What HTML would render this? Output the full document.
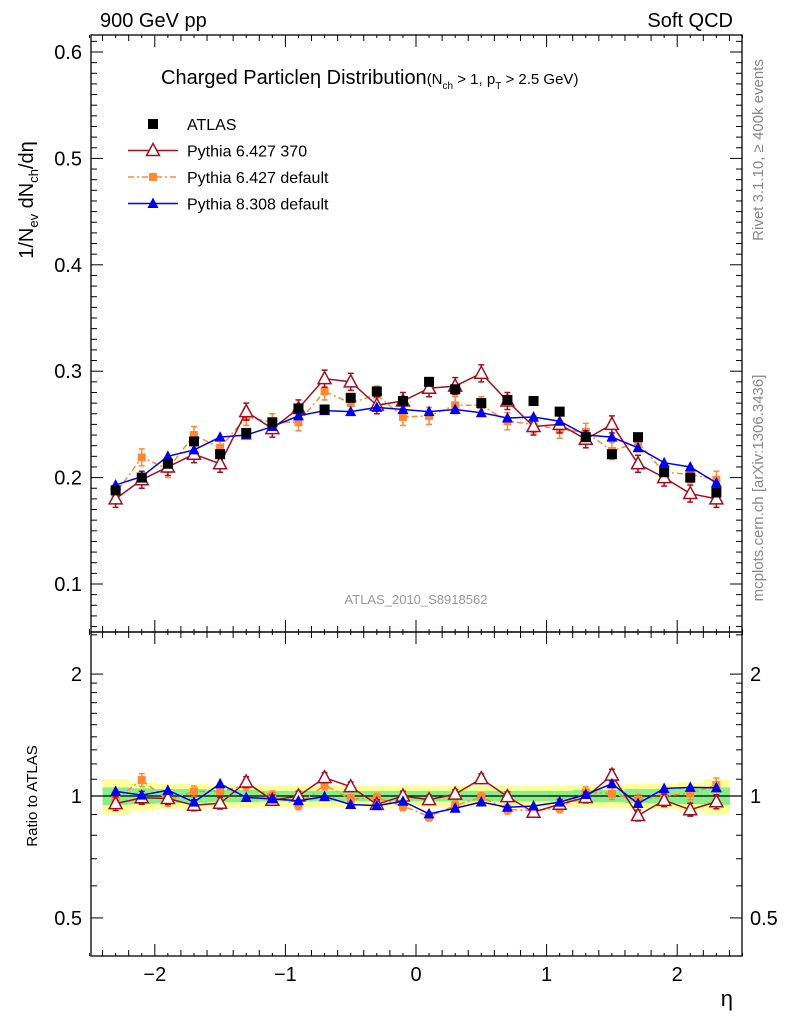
<!DOCTYPE html>
<html><head><meta charset="utf-8"><style>
body{margin:0;background:#fff;}
svg{display:block;font-family:"Liberation Sans",sans-serif;}
</style></head><body>
<svg id="c" width="786" height="1024" viewBox="0 0 786 1024"></svg>
<script>
const etas=[-2.3,-2.1,-1.9,-1.7,-1.5,-1.3,-1.1,-0.9,-0.7,-0.5,-0.3,-0.1,0.1,0.3,0.5,0.7,0.9,1.1,1.3,1.5,1.7,1.9,2.1,2.3];
const atlas=[0.188,0.200,0.213,0.234,0.222,0.242,0.252,0.265,0.264,0.275,0.281,0.272,0.290,0.283,0.270,0.273,0.272,0.262,0.238,0.222,0.238,0.205,0.200,0.186];
const py370=[0.180,0.198,0.210,0.222,0.213,0.262,0.246,0.265,0.293,0.290,0.268,0.272,0.284,0.286,0.298,0.272,0.248,0.250,0.236,0.250,0.213,0.200,0.185,0.180];
const pydef=[0.185,0.219,0.208,0.240,0.228,0.257,0.252,0.252,0.281,0.270,0.278,0.257,0.258,0.268,0.268,0.253,0.250,0.245,0.243,0.225,0.233,0.205,0.203,0.198];
const py8=[0.193,0.201,0.220,0.226,0.238,0.240,0.248,0.258,0.263,0.262,0.266,0.264,0.262,0.264,0.261,0.256,0.257,0.253,0.240,0.238,0.228,0.214,0.210,0.195];
const bandTot=[0.10,0.08,0.07,0.07,0.065,0.065,0.06,0.06,0.06,0.06,0.06,0.06,0.06,0.06,0.06,0.06,0.06,0.06,0.065,0.065,0.07,0.07,0.08,0.10];
const bandStat=[0.05,0.045,0.04,0.04,0.035,0.035,0.03,0.03,0.03,0.03,0.03,0.03,0.03,0.03,0.03,0.03,0.03,0.03,0.035,0.035,0.04,0.04,0.045,0.05];
const xTicks=[-2,-1,0,1,2];
const yTicks=[0.1,0.2,0.3,0.4,0.5,0.6];
const rTicks=[0.5,1,2];

const NS="http://www.w3.org/2000/svg";
const svg=document.getElementById('c');
function el(t,a,p){const e=document.createElementNS(NS,t);for(const k in a)e.setAttribute(k,a[k]);(p||svg).appendChild(e);return e;}
const L=91,R=742,T=35,M=632,B=956;
const X=v=>416+v*130.6;
const Y=v=>52+(0.6-v)*1064;
const RY=v=>796-Math.log10(v)*405;

const gB=el('g',{});


etas.forEach((e,i)=>{
  const x0=X(e-0.1),w=X(e+0.1)-X(e-0.1)+0.5;
  el('rect',{x:x0,y:RY(1+bandTot[i]),width:w,height:RY(1-bandTot[i])-RY(1+bandTot[i]),fill:'#ffff99'},gB);
  el('rect',{x:x0,y:RY(1+bandStat[i]),width:w,height:RY(1-bandStat[i])-RY(1+bandStat[i]),fill:'#88ee88'},gB);
});
el('line',{x1:L,x2:R,y1:RY(1),y2:RY(1),stroke:'#000','stroke-width':1.3});

const fr1=el('rect',{x:L,y:T,width:R-L,height:M-T,fill:'none',stroke:'#000','stroke-width':1.3});

const fr2=el('rect',{x:L,y:M,width:R-L,height:B-M,fill:'none',stroke:'#000','stroke-width':1.3});


for(let k=-25;k<=25;k++){const v=k/10;const x=X(v);const maj=k%10===0;const len=maj?12:(k%2===0?6:3);
  [[T,1],[M,-1],[M,1],[B,-1]].forEach(([y,d])=>el('line',{x1:x,x2:x,y1:y,y2:y+d*len,stroke:'#000'}));}
xTicks.forEach(v=>{const t=el('text',{x:X(v),y:981,'font-size':20,'text-anchor':'middle'});t.textContent=(v<0?'\u2212'+(-v):v);
  });
for(let k=6;k<=61;k++){const v=k/100;const y=Y(v);if(y<T||y>M)continue;const maj=k%10===0;const len=maj?12:6;
  el('line',{x1:L,x2:L+len,y1:y,y2:y,stroke:'#000'});el('line',{x1:R,x2:R-len,y1:y,y2:y,stroke:'#000'});}
yTicks.forEach(v=>{const t=el('text',{x:82,y:Y(v)+7,'font-size':20,'text-anchor':'end'});t.textContent=v.toFixed(1);
  });
[0.4,0.5,0.6,0.7,0.8,0.9,1,1.1,1.2,1.3,1.4,1.5,1.6,1.7,1.8,1.9,2,2.5].forEach(v=>{const y=RY(v);if(y<M||y>B)return;const maj=rTicks.includes(v);const len=maj?12:6;
  el('line',{x1:L,x2:L+len,y1:y,y2:y,stroke:'#000'});el('line',{x1:R,x2:R-len,y1:y,y2:y,stroke:'#000'});});
rTicks.forEach(v=>{[[82,'end'],[750,'start']].forEach(([x,a])=>{const t=el('text',{x:x,y:RY(v)+7,'font-size':20,'text-anchor':a});t.textContent=v;
  });});

function txt(s,a,name){const t=el('text',a);t.innerHTML=s;return t;}
txt('900 GeV pp',{x:100,y:27,'font-size':20},'energy-label');
txt('Soft QCD',{x:733,y:27,'font-size':20,'text-anchor':'end'},'process-label');
txt('\u03b7',{x:733,y:1006,'font-size':22,'text-anchor':'end'},'x-axis-title');
txt('1/N<tspan font-size="13" dy="5">ev</tspan><tspan dy="-5"> dN</tspan><tspan font-size="13" dy="5">ch</tspan><tspan dy="-5">/d\u03b7</tspan>',{transform:'translate(33,200) rotate(-90)','font-size':20,'text-anchor':'middle'},'y-axis-title');
txt('Ratio to ATLAS',{transform:'translate(37,796) rotate(-90)','font-size':15,'text-anchor':'middle'},'ratio-axis-title');
txt('Rivet 3.1.10, \u2265 400k events',{transform:'translate(763,150) rotate(-90)','font-size':15,fill:'#888','text-anchor':'middle'},'rivet-label');
txt('mcplots.cern.ch [arXiv:1306.3436]',{transform:'translate(763,488) rotate(-90)','font-size':15,fill:'#888','text-anchor':'middle'},'mcplots-label');
txt('ATLAS_2010_S8918562',{x:416,y:604,'font-size':13,fill:'#999','text-anchor':'middle'},'analysis-id');
txt('Charged Particle\u03b7 Distribution<tspan font-size="15">(N<tspan font-size="10" dy="5">ch</tspan><tspan dy="-5"> &gt; 1, p</tspan><tspan font-size="10" dy="5">T</tspan><tspan dy="-5"> &gt; 2.5 GeV)</tspan></tspan>',{x:161,y:84,'font-size':20},'plot-title');

function marker(type,x,y,c,g){
  if(type==='sq') el('rect',{x:x-5,y:y-5,width:10,height:10,fill:c},g);
  else if(type==='osq') el('rect',{x:x-4,y:y-4,width:8,height:8,fill:c},g);
  else if(type==='otri') el('polygon',{points:`${x},${y-7} ${x-6.5},${y+5} ${x+6.5},${y+5}`,fill:'#fff',stroke:c,'stroke-width':1.5},g);
  else el('polygon',{points:`${x},${y-6} ${x-5.5},${y+4.5} ${x+5.5},${y+4.5}`,fill:c},g);
}
function series(vals,col,type,dash,name,ratio,err){
  const g=el('g',{});
  const yf=ratio?(v,i)=>RY(v/atlas[i]):(v,i)=>Y(v);
  if(type!=='sq'){el('polyline',{points:vals.map((v,i)=>X(etas[i])+','+yf(v,i)).join(' '),fill:'none',stroke:col,'stroke-width':1.5,'stroke-dasharray':dash||'none'},g);}
  vals.forEach((v,i)=>{const x=X(etas[i]),y=yf(v,i);
    if(err){const e=ratio?(RY(1-err/atlas[i])-RY(1))*0.9:err*1064;el('line',{x1:x,x2:x,y1:y-e,y2:y+e,stroke:col,'stroke-width':1.5},g);
      el('line',{x1:x-3,x2:x+3,y1:y-e,y2:y-e,stroke:col,'stroke-width':1.5},g);el('line',{x1:x-3,x2:x+3,y1:y+e,y2:y+e,stroke:col,'stroke-width':1.5},g);}
    marker(type,x,y,col,g);});
}
const red='#a01020',org='#ff8833',blu='#0000ee';
series(pydef,org,'osq','6,3,2,3','pythia6-default-series',false,0.008);
series(py370,red,'otri',null,'pythia6-370-series',false,0.008);
series(py8,blu,'tri',null,'pythia8-series',false,0);
series(atlas,'#000','sq',null,'atlas-data',false,0);
series(pydef,org,'osq','6,3,2,3','pythia6-default-ratio',true,0.008);
series(py370,red,'otri',null,'pythia6-370-ratio',true,0.008);
series(py8,blu,'tri',null,'pythia8-ratio',true,0);

const lg=el('g',{});
[['ATLAS','#000','sq',null],['Pythia 6.427 370',red,'otri',null],['Pythia 6.427 default',org,'osq','6,3,2,3'],['Pythia 8.308 default',blu,'tri',null]].forEach((d,i)=>{
  const y=124+i*26.5;const ge=el('g',{},lg);
  if(d[2]!=='sq')el('line',{x1:128,x2:178,y1:y,y2:y,stroke:d[1],'stroke-width':1.5,'stroke-dasharray':d[3]||'none'},ge);
  marker(d[2],153,y,d[1],ge);
  const t=el('text',{x:187,y:y+6,'font-size':16},ge);t.textContent=d[0];});
</script>
</body></html>
